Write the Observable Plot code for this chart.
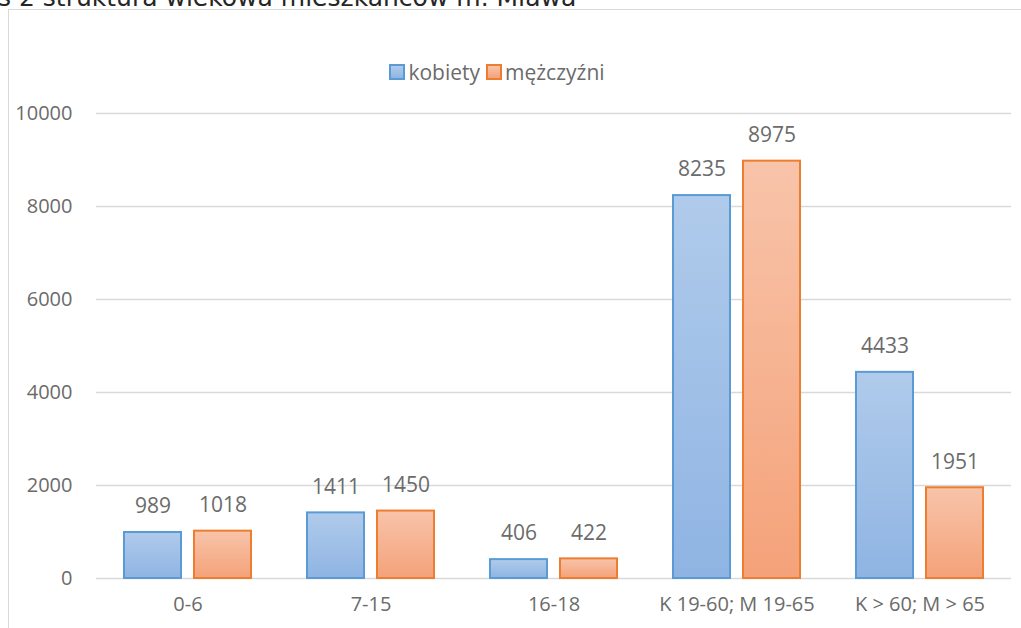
<!DOCTYPE html>
<html>
<head>
<meta charset="utf-8">
<script src="https://cdn.jsdelivr.net/npm/d3@7"></script>
<script src="https://cdn.jsdelivr.net/npm/@observablehq/plot@0.6"></script>
<style>
  html, body { margin: 0; padding: 0; background: #fff; overflow: hidden; }
  body { width: 1021px; height: 628px; position: relative; font-family: "Open Sans", sans-serif; }
  #title { position: absolute; left: -2px; top: -16px; font-family: "DejaVu Sans", sans-serif; font-size: 25px; line-height: 28px; color: #262626; white-space: nowrap; }
  #frame { position: absolute; left: 8px; top: 9px; width: 1100px; height: 700px; border: 1px solid #d9d9d9; box-sizing: border-box; }
  #legend { position: absolute; left: 0; top: 58px; width: 994px; height: 28px; display: flex; justify-content: center; align-items: center; font-size: 21px; color: #6b6b6b; }
  #legend .item { display: flex; align-items: center; margin: 0 3px; }
  #legend .sw { width: 12px; height: 12px; border: 2px solid; margin-right: 3px; }
  #chart { position: absolute; left: 0; top: 90px; }
</style>
</head>
<body>
<div id="title">s 2 struktura wiekowa mieszkańców m. Mława</div>
<div id="frame"></div>
<div id="legend"></div>
<div id="chart"></div>
<script>
const categories = ["0-6", "7-15", "16-18", "K 19-60; M 19-65", "K > 60; M > 65"];
const series = ["kobiety", "mężczyźni"];
const kobiety = [989, 1411, 406, 8235, 4433];
const mezczyzni = [1018, 1450, 422, 8975, 1951];
const yTicks = [0, 2000, 4000, 6000, 8000, 10000];

const data = categories.flatMap((c, i) => [
  {cat: c, s: series[0], v: kobiety[i]},
  {cat: c, s: series[1], v: mezczyzni[i]}
]);

const styles = {
  "kobiety": {fill: "url(#gradK)", stroke: "#5b9bd5", top: "#b0cbeb", bottom: "#8fb4e3", sw: "linear-gradient(#b0cbeb,#8fb4e3)"},
  "mężczyźni": {fill: "url(#gradM)", stroke: "#ed7d31", top: "#f8c4aa", bottom: "#f4a279", sw: "linear-gradient(#f8c4aa,#f4a279)"}
};

const legend = document.getElementById("legend");
series.forEach(s => {
  const item = document.createElement("div");
  item.className = "item";
  const sw = document.createElement("div");
  sw.className = "sw";
  sw.style.background = styles[s].sw;
  sw.style.borderColor = styles[s].stroke;
  const t = document.createElement("span");
  t.textContent = s;
  item.appendChild(sw); item.appendChild(t);
  legend.appendChild(item);
});

const plot = Plot.plot({
  width: 1021,
  height: 538,
  marginLeft: 96,
  marginRight: 10,
  marginTop: 23,
  marginBottom: 50,
  style: {fontFamily: "Open Sans, sans-serif", fontSize: "20px", color: "#6b6b6b", background: "transparent", overflow: "visible"},
  fx: {domain: categories, padding: 0, label: null, axis: "bottom", tickSize: 0, tickPadding: 18},
  x: {domain: series, axis: null, paddingInner: 0.186, paddingOuter: 0.4},
  y: {domain: [0, 10000], ticks: yTicks, tickFormat: d => String(d), label: null, tickSize: 0, tickPadding: 24},
  marks: [
    Plot.ruleY(yTicks, {stroke: "#d9d9d9", strokeWidth: 1.5}),
    ...series.map(s => Plot.barY(data.filter(d => d.s === s), {
      fx: "cat", x: "s", y: "v",
      fill: styles[s].fill, stroke: styles[s].stroke, strokeWidth: 2
    })),
    Plot.text(data, {fx: "cat", x: "s", y: "v", text: d => String(d.v), dy: -26, lineAnchor: "middle", fill: "#6b6b6b", fontSize: 21})
  ]
});

const svg = d3.select(plot);
const defs = svg.insert("defs", ":first-child");
[["gradK", styles["kobiety"]], ["gradM", styles["mężczyźni"]]].forEach(([id, st]) => {
  const g = defs.append("linearGradient").attr("id", id).attr("x1", 0).attr("y1", 0).attr("x2", 0).attr("y2", 1);
  g.append("stop").attr("offset", "0%").attr("stop-color", st.top);
  g.append("stop").attr("offset", "100%").attr("stop-color", st.bottom);
});

document.getElementById("chart").appendChild(plot);
</script>
</body>
</html>
